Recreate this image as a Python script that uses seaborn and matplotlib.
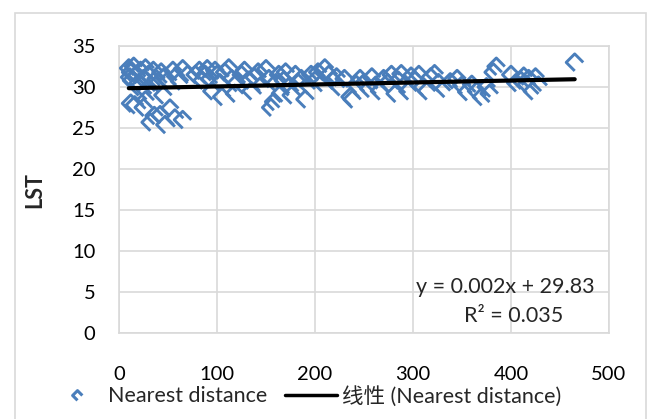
import numpy as np
import pandas as pd
import matplotlib
matplotlib.use("Agg")
import matplotlib.pyplot as plt
from matplotlib.path import Path
from matplotlib.lines import Line2D
from matplotlib.patches import Rectangle
import seaborn as sns

# ---------------- data ----------------
nearest_distance = [
    10, 12, 11, 13, 15, 18, 20, 22, 25, 27, 30, 33, 35, 38, 40, 43, 46, 50, 55, 58, 62, 65, 70,
    16, 27, 12, 25, 42, 47, 57, 65, 32, 52, 36, 20, 28, 45,
    78, 82, 85, 88, 90, 93, 95, 98, 100, 103, 105, 108, 112, 115, 118, 120, 125, 128, 132, 135, 138, 142, 145,
    150, 153, 155, 158, 160, 163, 165, 168, 170, 173, 176, 180, 183, 186, 190, 193, 196, 200, 203, 207, 210, 214,
    218, 222, 225, 230, 236, 238, 242, 246, 250, 255, 258, 262, 266, 270, 274, 278, 282, 285, 288, 292, 295, 298,
    302, 306, 310, 314, 318, 322, 326, 332, 338, 345, 350, 355,
    360, 365, 370, 375, 378, 382, 385, 400, 405, 410, 413, 416, 418, 422, 425, 428,
    465,
]
lst = [
    32.3, 31.8, 31.2, 30.8, 32.5, 31.5, 30.5, 32.0, 31.0, 32.3, 31.5, 30.2, 32.0, 31.0, 30.5, 31.8, 31.2, 30.8, 32.0, 31.3, 30.7, 32.2, 31.5,
    27.8, 28.4, 28.0, 27.5, 26.6, 25.4, 26.2, 26.0, 25.7, 27.4, 26.5, 30.0, 29.5, 29.0,
    31.5, 32.0, 30.8, 31.5, 32.2, 31.0, 29.5, 32.0, 31.5, 30.5, 28.8, 31.8, 32.3, 31.0, 29.2, 30.5, 31.5, 32.0, 30.8, 29.5, 31.2, 31.8, 30.2,
    32.2, 31.0, 27.5, 28.2, 30.5, 31.5, 29.2, 30.8, 31.8, 30.0, 29.0, 31.5, 30.5, 31.0, 28.5, 30.2, 31.5, 30.8, 31.8, 30.5, 32.3, 31.5,
    30.8, 31.2, 30.0, 31.0, 28.8, 28.5, 30.3, 31.0, 30.5, 29.8, 31.2, 30.2, 29.5, 31.0, 30.5, 31.5, 29.2, 30.8, 31.6, 30.3, 29.5, 31.3,
    30.8, 31.5, 30.0, 29.5, 31.2, 31.6, 30.5, 29.8, 30.6, 31.0, 30.2, 29.4,
    30.3, 29.5, 28.8, 30.0, 29.2, 31.8, 32.5, 31.5, 30.5, 30.8, 31.3, 30.3, 31.0, 29.5, 31.2, 30.2,
    33.0,
]
trend_slope = [0.0024]
trend_intercept = [29.83]
equation_label = "y = 0.002x + 29.83"
r2_label = "R² = 0.035"
x_ticks = [0, 100, 200, 300, 400, 500]
y_ticks = [0, 5, 10, 15, 20, 25, 30, 35]
series_name = "Nearest distance"
trend_name = "线性 (Nearest distance)"
y_title = "LST"

df = pd.DataFrame({"x": nearest_distance, "y": lst})

# ---------------- style ----------------
sns.set_theme(style="white")
FONT = ["Lato", "Noto Sans CJK SC", "DejaVu Sans"]
plt.rcParams["font.family"] = FONT
BLUE = "#4A7EBB"
GRID = "#D9D9D9"
FS = 14.5
FS_BIG = 15.5

W, H = 649, 419
fig = plt.figure(figsize=(W / 100, H / 100), dpi=100)
ax = fig.add_axes([119 / W, (H - 333) / H, (609 - 119) / W, (333 - 46) / H])

# open diamond marker (bottom-right edge missing)
marker_path = Path([(0, -1), (-1, 0), (0, 1), (1, 0)],
                   [Path.MOVETO, Path.LINETO, Path.LINETO, Path.LINETO])

sns.scatterplot(data=df, x="x", y="y", ax=ax, marker=marker_path, s=150,
                facecolor="none", edgecolor=BLUE, linewidth=2.1, zorder=3)

xs = np.array([min(nearest_distance), max(nearest_distance)], dtype=float)
sns.lineplot(x=xs, y=trend_slope[0] * xs + trend_intercept[0], ax=ax,
             color="black", linewidth=3.0, zorder=4)

ax.set_xlim(0, 500)
ax.set_ylim(0, 35)
ax.set_xticks(x_ticks)
ax.set_yticks(y_ticks)
ax.grid(True, color=GRID, linewidth=1.2)
ax.set_axisbelow(True)
for sp in ax.spines.values():
    sp.set_color(GRID)
    sp.set_linewidth(1.2)
ax.tick_params(axis="both", length=0, labelsize=FS, colors="black")
ax.tick_params(axis="y", pad=17)
ax.tick_params(axis="x", pad=24)
ax.set_xlabel("")
ax.set_ylabel(y_title, fontsize=FS_BIG, fontweight="bold", labelpad=19)

ax.text(394, 5.6, equation_label, fontsize=FS_BIG, ha="center", va="center")
ax.text(403, 2.1, r2_label, fontsize=FS_BIG, ha="center", va="center")

handles = [
    Line2D([], [], linestyle="none", marker=marker_path, markersize=7,
           markerfacecolor="none", markeredgecolor=BLUE, markeredgewidth=2.2),
    Line2D([], [], color="black", linewidth=2.5),
]
fig.legend(handles, [series_name, trend_name], loc="center left",
           bbox_to_anchor=(51 / W, (H - 396) / H), ncol=2, frameon=False,
           fontsize=FS_BIG, handlelength=2.45, handletextpad=0.2, columnspacing=0.8,
           borderaxespad=0, borderpad=0)

fig.patches.append(Rectangle((15 / W, -0.05), (646 - 15) / W, (H - 13) / H + 0.05,
                             transform=fig.transFigure, fill=False,
                             edgecolor=GRID, linewidth=1.2))

fig.savefig("out.png", dpi=100)
